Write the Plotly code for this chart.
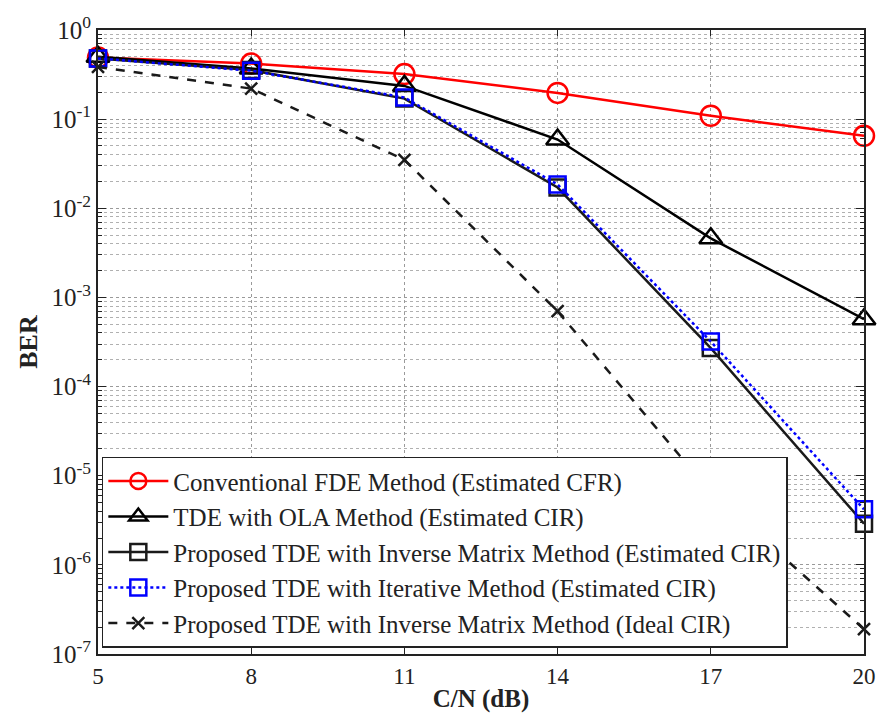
import plotly.graph_objects as go

cn_db = [5, 8, 11, 14, 17, 20]
ber_fde = [0.49, 0.42, 0.32, 0.197, 0.109, 0.065]
ber_ola = [0.50, 0.37, 0.236, 0.059, 0.0046, 5.7e-4]
ber_inv_est = [0.48, 0.355, 0.17, 0.0171, 2.7e-4, 2.9e-6]
ber_iter_est = [0.48, 0.35, 0.175, 0.0185, 3.2e-4, 4.2e-6]
ber_inv_ideal = [0.385, 0.22, 0.035, 7.0e-4, 6.5e-6, 1.9e-7]

names = [
    "Conventional FDE Method (Estimated CFR)",
    "TDE with OLA Method (Estimated CIR)",
    "Proposed TDE with Inverse Matrix Method (Estimated CIR)",
    "Proposed TDE with Iterative Method (Estimated CIR)",
    "Proposed TDE with Inverse Matrix Method (Ideal CIR)",
]
y_ticks = [1e-7, 1e-6, 1e-5, 1e-4, 1e-3, 1e-2, 1e-1, 1e0]
y_ticktext = ["10<sup>-7</sup>", "10<sup>-6</sup>", "10<sup>-5</sup>", "10<sup>-4</sup>",
              "10<sup>-3</sup>", "10<sup>-2</sup>", "10<sup>-1</sup>", "10<sup>0</sup>"]

series = [
    (ber_fde, "#ff0000", "solid", "circle-open", 20),
    (ber_ola, "#000000", "solid", "triangle-up-open", 20),
    (ber_inv_est, "#1a1a1a", "solid", "square-open", 16),
    (ber_iter_est, "#0000ff", "dot", "square-open", 16),
    (ber_inv_ideal, "#1a1a1a", "dash", "x-thin-open", 12),
]

fig = go.Figure()
for (vals, col, dash, sym, sz), nm in zip(series, names):
    fig.add_trace(go.Scatter(
        x=cn_db, y=vals, name=nm, mode="lines+markers", cliponaxis=False,
        line=dict(color=col, width=2.5, dash=dash),
        marker=dict(symbol=sym, size=sz, color=col, line=dict(color=col, width=2.5)),
    ))

ff = "Liberation Serif"
fig.update_layout(
    width=888, height=720,
    margin=dict(l=98, r=14, t=28, b=65),
    plot_bgcolor="white", paper_bgcolor="white",
    font=dict(family=ff, size=22, color="#222222"),
    showlegend=True,
    legend=dict(
        x=0.005, y=0.01, xanchor="left", yanchor="bottom",
        bgcolor="white", bordercolor="#222222", borderwidth=1.5,
        font=dict(family=ff, size=25, color="#222222"),
        tracegroupgap=0, itemwidth=60,
    ),
    xaxis=dict(
        range=[5, 20], tickvals=cn_db, ticktext=[str(v) for v in cn_db],
        showgrid=True, gridcolor="#9a9a9a", gridwidth=1, griddash="dot",
        showline=True, linecolor="#222222", linewidth=2, mirror="ticks",
        ticks="inside", ticklen=6, tickcolor="#222222",
        title=dict(text="<b>C/N (dB)</b>", font=dict(size=25, family=ff), standoff=2),
        tickfont=dict(size=23, family=ff), zeroline=False,
    ),
    yaxis=dict(
        type="log", range=[-7, 0], tickvals=y_ticks, ticktext=y_ticktext,
        showgrid=True, gridcolor="#9a9a9a", gridwidth=1, griddash="dot",
        minor=dict(showgrid=True, gridcolor="#b0b0b0", griddash="dot", dtick="D1",
                   ticks="inside", ticklen=4, tickcolor="#222222"),
        showline=True, linecolor="#222222", linewidth=2, mirror="ticks",
        ticks="inside", ticklen=8, tickcolor="#222222",
        title=dict(text="<b>BER</b>", font=dict(size=26, family=ff), standoff=6),
        tickfont=dict(size=25, family=ff), zeroline=False,
    ),
)

fig.write_html("out.html")
